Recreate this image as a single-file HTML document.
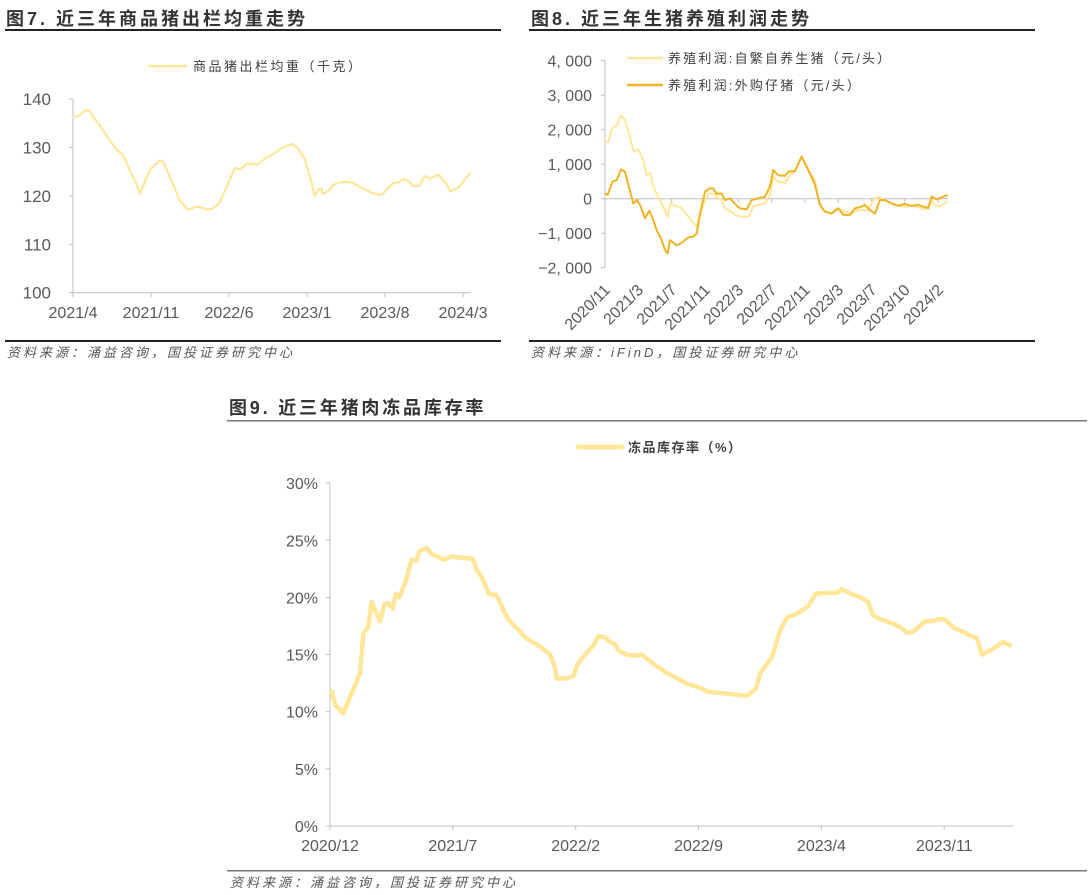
<!DOCTYPE html>
<html><head><meta charset="utf-8"><style>
body{margin:0;background:#fff;width:1092px;height:895px;overflow:hidden;font-family:"Liberation Sans","Noto Sans CJK SC",sans-serif}
svg{position:absolute;left:0;top:0}
</style></head><body>
<svg id="s" width="1092" height="895" xmlns="http://www.w3.org/2000/svg">
<g font-family="Liberation Sans, Noto Sans CJK SC, sans-serif">
<text x="6" y="25" font-size="18" font-weight="bold" letter-spacing="3" fill="#333">图7. 近三年商品猪出栏均重走势</text>
<rect x="5" y="29" width="496" height="2" fill="#222"/>
<rect x="5" y="340" width="496" height="2" fill="#222"/>
<text x="7" y="357" font-size="13" font-style="italic" letter-spacing="3" fill="#555">资料来源：涌益咨询，国投证券研究中心</text>
<text x="531" y="25" font-size="18" font-weight="bold" letter-spacing="3" fill="#333">图8. 近三年生猪养殖利润走势</text>
<rect x="529" y="29" width="506" height="2" fill="#222"/>
<rect x="529" y="340" width="506" height="2" fill="#222"/>
<text x="531" y="357" font-size="13" font-style="italic" letter-spacing="3" fill="#555">资料来源：iFinD，国投证券研究中心</text>
<text x="229" y="414" font-size="18" font-weight="bold" letter-spacing="2.8" fill="#333">图9. 近三年猪肉冻品库存率</text>
<rect x="227" y="420" width="860" height="1.5" fill="#777"/>
<rect x="227" y="870" width="860" height="1.5" fill="#777"/>
<text x="230" y="887" font-size="13" font-style="italic" letter-spacing="3" fill="#555">资料来源：涌益咨询，国投证券研究中心</text>
<line x1="148" y1="66" x2="187" y2="66" stroke="#FFE699" stroke-width="2.5"/>
<text x="193" y="71" font-size="13" letter-spacing="2.5" fill="#404040">商品猪出栏均重（千克）</text>
<line x1="627" y1="58" x2="663" y2="58" stroke="#FFE699" stroke-width="2.5"/>
<text x="668" y="63" font-size="13" letter-spacing="2.2" fill="#404040">养殖利润:自繁自养生猪（元/头）</text>
<line x1="627" y1="85" x2="663" y2="85" stroke="#F0B323" stroke-width="2.5"/>
<text x="668" y="90" font-size="13" letter-spacing="2.2" fill="#404040">养殖利润:外购仔猪（元/头）</text>
<line x1="578" y1="447" x2="622" y2="447" stroke="#FFE699" stroke-width="5" stroke-linecap="round"/>
<text x="628" y="452" font-size="13" font-weight="bold" letter-spacing="1.5" fill="#404040">冻品库存率（%）</text>
</g>
<g id="c1"></g><g id="c2"></g><g id="c3"></g>
</svg>
<script>
// ---- Chart 1 data (months since 2021/4, kg)
const c1Months=[0,.45,1.14,1.44,1.94,2.39,3.29,3.89,4.49,5.23,5.68,5.98,6.34,6.88,7.48,7.78,8.08,8.82,9.57,10.32,11.07,12.11,12.56,13.1,13.52,14.06,14.51,15.02,15.56,16.3,16.51,17.05,17.65,18.1,18.55,19.14,19.68,20.19,20.79,21.09,21.39,21.69,21.99,22.29,22.43,23.03,23.33,23.93,24.53,25.13,25.73,26.32,26.92,27.67,28.12,28.72,29.32,29.67,30.21,30.51,31.11,31.41,31.71,32.01,32.75,33.5,33.86,34.25,34.7,35.15,35.66];
const c1Weight=[136.4,136.4,137.7,137.6,135.9,134.6,131.5,129.6,128.4,124.6,122.6,120.5,122.2,125.3,126.7,127.3,127.1,123.3,119.1,117.1,117.8,117.2,117.4,118.4,120.5,123.3,125.7,125.5,126.6,126.6,126.4,127.4,128.3,128.8,129.6,130.3,130.7,129.8,127.7,125.3,122.9,120.0,121.2,121.5,120.4,121.2,122.2,122.8,122.9,122.7,121.8,121.2,120.5,120.2,121.2,122.6,122.9,123.5,122.9,122.0,122.1,123.6,124.1,123.5,124.4,122.6,120.9,121.4,121.9,123.3,124.8];
const c1YTicks=[100,110,120,130,140];
const c1XLabels=["2021/4","2021/11","2022/6","2023/1","2023/8","2024/3"];
const c1XTickMonths=[0,7,14,21,28,35];
// ---- Chart 2 data (position in tick units, yuan/head)
const c2XLabels=["2020/11","2021/3","2021/7","2021/11","2022/3","2022/7","2022/11","2023/3","2023/7","2023/10","2024/2"];
const c2YTicks=[-2000,-1000,0,1000,2000,3000,4000];
const c2SelfT=[0,.1,.22,.35,.48,.6,.72,.85,.9,1,1.15,1.25,1.35,1.45,1.55,1.65,1.75,1.88,1.95,2.05,2.3,2.5,2.75,2.9,3,3.1,3.25,3.35,3.5,3.6,3.8,3.9,4.05,4.2,4.3,4.45,4.6,4.8,4.95,5.05,5.2,5.4,5.55,5.7,5.9,6.1,6.3,6.4,6.55,6.8,6.95,7.15,7.4,7.6,7.9,8.05,8.2,8.4,8.6,8.8,9,9.2,9.4,9.6,9.7,9.8,9.9,10.05,10.28];
const c2Self=[1650,1650,2040,2130,2420,2280,1890,1410,1360,1430,1120,690,750,350,150,-40,-230,-540,-140,-180,-280,-520,-810,-330,-40,140,150,60,-40,-280,-380,-470,-520,-520,-520,-230,-180,-140,110,640,490,460,690,780,1220,830,540,-40,-330,-430,-280,-350,-430,-330,-330,-40,60,-40,-140,-210,-230,-210,-250,-310,-180,-40,-180,-230,-70];
const c2BuyT=[0,.08,.22,.35,.48,.6,.7,.85,.95,1.05,1.2,1.33,1.45,1.55,1.7,1.8,1.88,1.95,2.15,2.3,2.5,2.65,2.75,2.85,3,3.15,3.25,3.35,3.5,3.6,3.75,3.9,4.05,4.25,4.4,4.6,4.8,4.95,5.05,5.2,5.4,5.5,5.7,5.9,6.1,6.3,6.45,6.6,6.8,7,7.15,7.35,7.5,7.7,7.8,7.95,8.1,8.25,8.4,8.6,8.8,9,9.2,9.4,9.7,9.8,9.95,10.1,10.28];
const c2Buy=[150,110,490,540,850,780,400,-140,-40,-180,-570,-350,-620,-910,-1200,-1490,-1590,-1200,-1350,-1280,-1120,-1100,-1010,-430,200,300,300,140,150,-40,10,-150,-280,-310,-40,10,60,350,830,680,660,780,810,1220,830,400,-180,-380,-430,-280,-470,-470,-280,-230,-180,-330,-430,-40,-40,-140,-200,-150,-210,-180,-280,60,-20,40,110];
// ---- Chart 3 data (months since 2020/12, %)
const c3Months=[0.1,0.3,0.76,1.04,1.71,1.9,2.18,2.37,2.85,3.1,3.32,3.57,3.76,3.95,4.33,4.65,4.9,5.13,5.51,5.79,6.08,6.5,6.93,7.22,7.98,8.17,8.36,8.64,9.06,9.46,9.59,9.97,10.26,10.83,11.21,11.97,12.54,12.82,12.92,13.39,13.86,14.09,14.43,15,15.29,15.67,15.95,16.24,16.43,16.62,16.91,17.38,17.76,18.42,19.18,19.56,19.94,20.4,21.08,21.54,22.79,23.76,24.27,24.5,25.19,25.64,26.04,26.5,27.24,27.69,28.03,28.32,28.89,29.17,29.63,30.37,30.66,30.94,31.34,32.08,32.48,32.88,33.22,33.9,34.47,34.64,35.04,35.5,36.18,36.58,36.87,37.15,37.78,38.35,38.75];
const c3Rate=[11.75,10.6,9.85,10.9,13.35,16.85,17.4,19.6,17.9,19.4,19.5,19.0,20.3,20.0,21.5,23.3,23.2,24.1,24.3,23.8,23.6,23.3,23.6,23.5,23.4,23.3,22.4,21.8,20.3,20.2,19.9,18.6,17.9,17.0,16.4,15.7,15.0,13.9,12.9,12.9,13.1,14.1,14.8,15.8,16.6,16.5,16.1,15.9,15.4,15.2,15.0,14.9,15.0,14.2,13.4,13.1,12.8,12.4,12.1,11.75,11.55,11.4,12.0,13.35,14.8,17.1,18.25,18.5,19.2,20.35,20.35,20.4,20.4,20.7,20.35,19.9,19.6,18.45,18.1,17.7,17.4,16.9,17.0,17.9,17.95,18.1,18.1,17.4,16.9,16.6,16.4,15.0,15.5,16.1,15.8];
const c3YTicks=[0,5,10,15,20,25,30];
const c3XLabels=["2020/12","2021/7","2022/2","2022/9","2023/4","2023/11"];
const c3XTickMonths=[0,7,14,21,28,35];

const NS="http://www.w3.org/2000/svg";
function mk(parent,tag,attrs){const e=document.createElementNS(NS,tag);for(const k in attrs)e.setAttribute(k,attrs[k]);parent.appendChild(e);return e;}
const FONT="Liberation Sans, Noto Sans CJK SC, sans-serif";

// Chart 1
(function(){
 const g=document.getElementById('c1');
 const x=m=>73+m*(390/35), y=v=>292.7-(v-100)*(193.7/40);
 let e=mk(g,'line',{x1:73,y1:99,x2:73,y2:292.7,stroke:'#bfbfbf'});
 
 
 e=mk(g,'line',{x1:73,y1:292.7,x2:471,y2:292.7,stroke:'#bfbfbf'});
 
 
 c1YTicks.forEach(v=>{mk(g,'line',{x1:69,x2:73,y1:y(v),y2:y(v),stroke:'#bfbfbf'});
  const t=mk(g,'text',{x:51,y:y(v)+6,'text-anchor':'end','font-size':17,fill:'#595959','font-family':FONT});t.textContent=v;
  
  });
 c1XTickMonths.forEach((m,i)=>{mk(g,'line',{x1:x(m),x2:x(m),y1:292.7,y2:297,stroke:'#bfbfbf'});
  const t=mk(g,'text',{x:x(m),y:318,'text-anchor':'middle','font-size':16,fill:'#595959','font-family':FONT});t.textContent=c1XLabels[i];
  
  });
 const p=mk(g,'polyline',{points:c1Months.map((m,i)=>x(m)+','+y(c1Weight[i])).join(' '),fill:'none',stroke:'#FFE699','stroke-width':2.2,'stroke-linejoin':'round'});
 
 
})();

// Chart 2
(function(){
 const g=document.getElementById('c2');
 const x=t=>605+t*33.33, y=v=>198.7-v*0.0345;
 let e=mk(g,'line',{x1:605,y1:60.7,x2:605,y2:267.7,stroke:'#bfbfbf'});
 
 
 e=mk(g,'line',{x1:605,y1:y(0),x2:948,y2:y(0),stroke:'#bfbfbf'});
 
 
 c2YTicks.forEach(v=>{mk(g,'line',{x1:601,x2:605,y1:y(v),y2:y(v),stroke:'#bfbfbf'});
  const t=mk(g,'text',{x:592,y:y(v)+6,'text-anchor':'end','font-size':16,fill:'#595959','font-family':FONT});
  t.textContent=(v<0?'−':'')+Math.abs(v).toLocaleString('en-US').replace(',',', ');
  
  });
 c2XLabels.forEach((l,i)=>{mk(g,'line',{x1:x(i),x2:x(i),y1:y(0),y2:y(0)+4,stroke:'#bfbfbf'});
  const tx=x(i)+6,ty=291;
  const t=mk(g,'text',{x:tx,y:ty,'text-anchor':'end','font-size':16,fill:'#595959','font-family':FONT,transform:`rotate(-45 ${tx} ${ty})`});t.textContent=l;
  
  });
 let p=mk(g,'polyline',{points:c2SelfT.map((t,i)=>x(t)+','+y(c2Self[i])).join(' '),fill:'none',stroke:'#FFE699','stroke-width':2,'stroke-linejoin':'round'});
 
 
 p=mk(g,'polyline',{points:c2BuyT.map((t,i)=>x(t)+','+y(c2Buy[i])).join(' '),fill:'none',stroke:'#F0B323','stroke-width':2,'stroke-linejoin':'round'});
 
 
})();

// Chart 3
(function(){
 const g=document.getElementById('c3');
 const x=m=>330+m*17.55, y=v=>826-v*11.43;
 let e=mk(g,'line',{x1:330,y1:483,x2:330,y2:826,stroke:'#bfbfbf'});
 
 
 e=mk(g,'line',{x1:330,y1:826,x2:1013,y2:826,stroke:'#bfbfbf'});
 
 
 c3YTicks.forEach(v=>{mk(g,'line',{x1:326,x2:330,y1:y(v),y2:y(v),stroke:'#bfbfbf'});
  const t=mk(g,'text',{x:318,y:y(v)+6,'text-anchor':'end','font-size':16,fill:'#595959','font-family':FONT});t.textContent=v+'%';
  
  });
 c3XTickMonths.forEach((m,i)=>{mk(g,'line',{x1:x(m),x2:x(m),y1:826,y2:830,stroke:'#bfbfbf'});
  const t=mk(g,'text',{x:x(m),y:851,'text-anchor':'middle','font-size':16,fill:'#595959','font-family':FONT});t.textContent=c3XLabels[i];
  
  });
 const p=mk(g,'polyline',{points:c3Months.map((m,i)=>x(m)+','+y(c3Rate[i])).join(' '),fill:'none',stroke:'#FFE699','stroke-width':4.5,'stroke-linejoin':'round','stroke-linecap':'round'});
 
 
})();
</script>
</body></html>
